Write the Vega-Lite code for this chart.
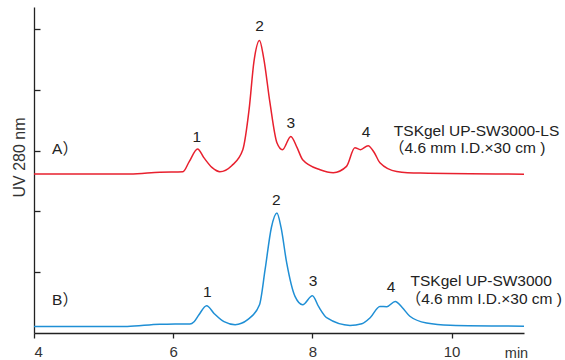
{
  "$schema": "https://vega.github.io/schema/vega-lite/v6.json",
  "width": 490,
  "height": 326,
  "autosize": {"type": "none"},
  "padding": {"left": 34, "top": 7, "right": 41, "bottom": 27},
  "background": "white",
  "config": {
    "view": {"stroke": null},
    "font": "Liberation Sans, Arial, Noto Sans CJK JP, sans-serif",
    "axis": {"domainColor": "#222", "domainWidth": 1.3, "tickColor": "#222", "tickWidth": 1.3, "grid": false, "labelColor": "#333", "titleColor": "#333", "titleFontWeight": "normal"}
  },
  "datasets": {
    "curves": [
      {"s": "A", "t": 4.00, "v": 2.617}, {"s": "A", "t": 5.38, "v": 2.617}, {"s": "A", "t": 5.81, "v": 2.647},
      {"s": "A", "t": 6.14, "v": 2.655}, {"s": "A", "t": 6.23, "v": 2.82}, {"s": "A", "t": 6.35, "v": 3.03},
      {"s": "A", "t": 6.44, "v": 2.886}, {"s": "A", "t": 6.56, "v": 2.721}, {"s": "A", "t": 6.67, "v": 2.655},
      {"s": "A", "t": 6.84, "v": 2.754}, {"s": "A", "t": 7.00, "v": 3.017}, {"s": "A", "t": 7.09, "v": 3.676},
      {"s": "A", "t": 7.16, "v": 4.466}, {"s": "A", "t": 7.24, "v": 4.816}, {"s": "A", "t": 7.30, "v": 4.525},
      {"s": "A", "t": 7.39, "v": 3.791}, {"s": "A", "t": 7.49, "v": 3.132}, {"s": "A", "t": 7.57, "v": 3.017},
      {"s": "A", "t": 7.69, "v": 3.236}, {"s": "A", "t": 7.78, "v": 3.05}, {"s": "A", "t": 7.86, "v": 2.853},
      {"s": "A", "t": 8.11, "v": 2.688}, {"s": "A", "t": 8.30, "v": 2.639}, {"s": "A", "t": 8.49, "v": 2.743},
      {"s": "A", "t": 8.61, "v": 3.05}, {"s": "A", "t": 8.69, "v": 3.017}, {"s": "A", "t": 8.80, "v": 3.083},
      {"s": "A", "t": 8.89, "v": 2.967}, {"s": "A", "t": 8.97, "v": 2.803}, {"s": "A", "t": 9.21, "v": 2.66},
      {"s": "A", "t": 9.55, "v": 2.632}, {"s": "A", "t": 11.04, "v": 2.614},
      {"s": "B", "t": 4.00, "v": 0.109}, {"s": "B", "t": 5.34, "v": 0.109}, {"s": "B", "t": 5.81, "v": 0.145},
      {"s": "B", "t": 6.24, "v": 0.148}, {"s": "B", "t": 6.30, "v": 0.186}, {"s": "B", "t": 6.37, "v": 0.301},
      {"s": "B", "t": 6.48, "v": 0.449}, {"s": "B", "t": 6.59, "v": 0.318}, {"s": "B", "t": 6.73, "v": 0.186},
      {"s": "B", "t": 6.89, "v": 0.137}, {"s": "B", "t": 7.07, "v": 0.219}, {"s": "B", "t": 7.24, "v": 0.466},
      {"s": "B", "t": 7.32, "v": 1.042}, {"s": "B", "t": 7.41, "v": 1.733}, {"s": "B", "t": 7.49, "v": 1.975},
      {"s": "B", "t": 7.55, "v": 1.733}, {"s": "B", "t": 7.63, "v": 1.157}, {"s": "B", "t": 7.75, "v": 0.602},
      {"s": "B", "t": 7.86, "v": 0.466}, {"s": "B", "t": 8.00, "v": 0.614}, {"s": "B", "t": 8.09, "v": 0.433},
      {"s": "B", "t": 8.21, "v": 0.247}, {"s": "B", "t": 8.54, "v": 0.125}, {"s": "B", "t": 8.71, "v": 0.153},
      {"s": "B", "t": 8.83, "v": 0.252}, {"s": "B", "t": 8.97, "v": 0.438}, {"s": "B", "t": 9.07, "v": 0.433},
      {"s": "B", "t": 9.19, "v": 0.52}, {"s": "B", "t": 9.29, "v": 0.419}, {"s": "B", "t": 9.40, "v": 0.276},
      {"s": "B", "t": 9.64, "v": 0.165}, {"s": "B", "t": 9.98, "v": 0.128}, {"s": "B", "t": 11.04, "v": 0.112}
    ],
    "peaks": [
      {"label": "1", "t": 6.34, "v": 3.23}, {"label": "2", "t": 7.24, "v": 5.06},
      {"label": "3", "t": 7.69, "v": 3.46}, {"label": "4", "t": 8.77, "v": 3.31},
      {"label": "1", "t": 6.49, "v": 0.68}, {"label": "2", "t": 7.48, "v": 2.19},
      {"label": "3", "t": 8.01, "v": 0.86}, {"label": "4", "t": 9.13, "v": 0.76}
    ],
    "notes": [
      {"text": "A）", "t": 4.26, "v": 3.03},
      {"text": "B）", "t": 4.26, "v": 0.55},
      {"text": "TSKgel UP-SW3000-LS", "t": 9.17, "v": 3.33},
      {"text": "（4.6 mm I.D.×30 cm )", "t": 9.10, "v": 3.05},
      {"text": "TSKgel UP-SW3000", "t": 9.41, "v": 0.855},
      {"text": "（4.6 mm I.D.×30 cm )", "t": 9.34, "v": 0.56}
    ]
  },
  "layer": [
    {
      "data": {"name": "curves"},
      "mark": {"type": "line", "interpolate": "monotone", "strokeWidth": 1.5},
      "encoding": {
        "x": {"field": "t", "type": "quantitative", "scale": {"domain": [4, 11.04], "nice": false, "zero": false},
          "axis": {"values": [4, 6, 8, 10], "format": "d", "tickSize": 5, "labelPadding": 6, "labelFontSize": 15, "title": "min", "titleFontSize": 14.5, "titleX": 482, "titleY": 20, "titleAlign": "center", "titleBaseline": "middle"}},
        "y": {"field": "v", "type": "quantitative", "scale": {"domain": [0, 5.366], "nice": false},
          "axis": {"values": [1, 2, 3, 4, 5], "labels": false, "tickSize": -6, "title": "UV 280 nm", "titleFontSize": 16, "titleX": -15, "titleY": 150, "titleAlign": "center", "titleBaseline": "middle", "titleAngle": -90}},
        "color": {"field": "s", "type": "nominal", "scale": {"domain": ["A", "B"], "range": ["#e8202e", "#1f8fd5"]}, "legend": null},
        "detail": {"field": "s"}
      }
    },
    {
      "data": {"name": "peaks"},
      "mark": {"type": "text", "fontSize": 15.5, "color": "#222", "baseline": "middle", "align": "center"},
      "encoding": {
        "x": {"field": "t", "type": "quantitative"},
        "y": {"field": "v", "type": "quantitative"},
        "text": {"field": "label"}
      }
    },
    {
      "data": {"name": "notes"},
      "mark": {"type": "text", "fontSize": 15.5, "color": "#222", "baseline": "middle", "align": "left"},
      "encoding": {
        "x": {"field": "t", "type": "quantitative"},
        "y": {"field": "v", "type": "quantitative"},
        "text": {"field": "text"}
      }
    }
  ]
}
